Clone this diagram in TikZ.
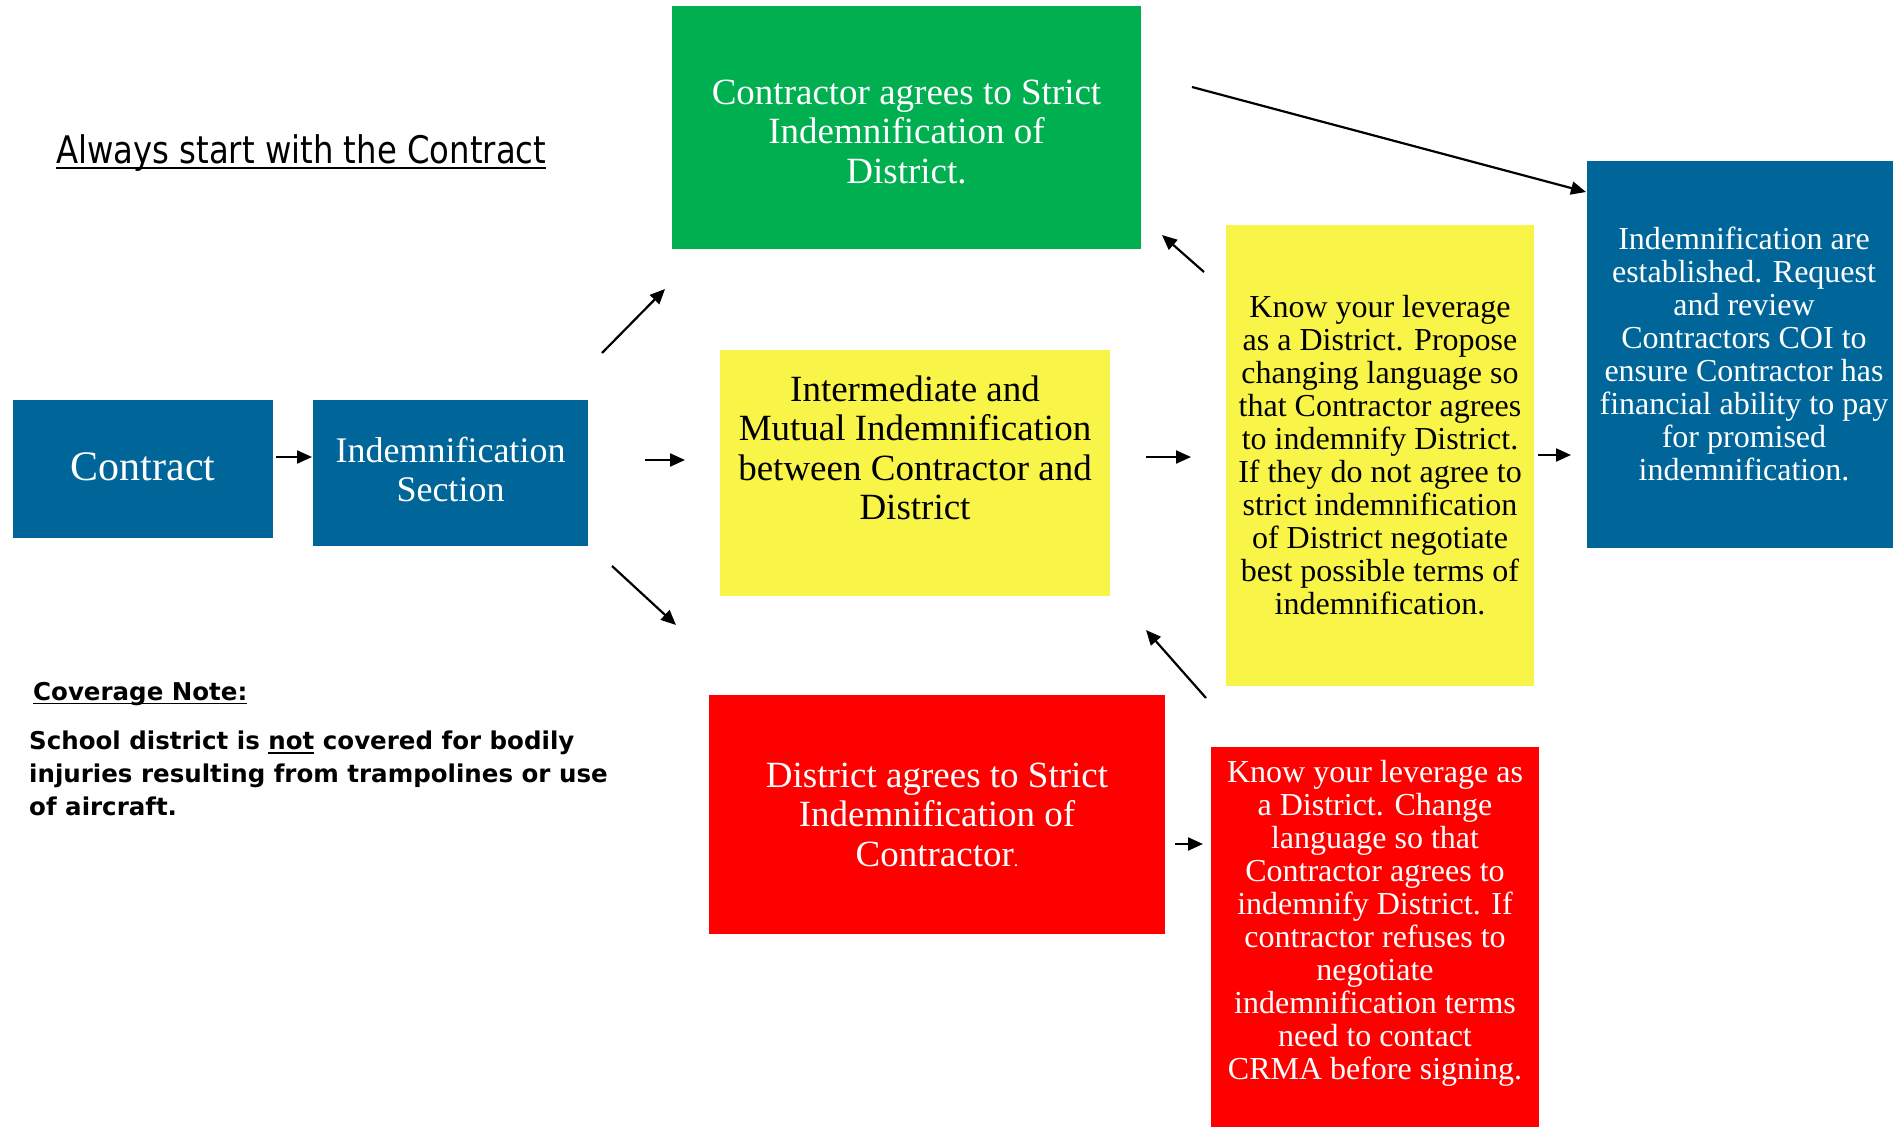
\documentclass[tikz,border=0pt]{standalone}
\usepackage{fontspec}
\setmainfont{Liberation Serif}
\newfontfamily\titlefont[FakeStretch=0.85]{DejaVu Sans}
\newfontfamily\notefont{DejaVu Sans}
\definecolor{dblue}{RGB}{0,102,153}
\definecolor{dgreen}{RGB}{0,176,80}
\definecolor{dyellow}{RGB}{249,245,72}
\definecolor{dred}{RGB}{255,0,0}
\usetikzlibrary{arrows.meta,positioning}
\newcommand{\undl}[1]{\setbox0\hbox{#1}\rlap{\rule[-0.17em]{\wd0}{0.065em}}\box0\relax}

\begin{document}
\begin{tikzpicture}[x=1pt,y=-1pt,
  box/.style={anchor=north west,inner sep=0pt,outer sep=0pt},
  bluebox/.style={box,fill=dblue},
  greenbox/.style={box,fill=dgreen},
  yellowbox/.style={box,fill=dyellow},
  redbox/.style={box,fill=dred},
  boxtext/.style={inner sep=0pt,align=center},
  arr/.style={-{Triangle[length=15pt,width=13pt]},line width=2.2pt}]
  \useasboundingbox (0,0) rectangle (1893,1127);
  \fill[white] (0,0) rectangle (1893,1127);

  % heading and note
  \node[anchor=base west,inner sep=0pt,font=\titlefont\fontsize{38}{40}\selectfont] (title) at (56,163)
    {\undl{Always start with the Contract}};
  \node[anchor=base west,inner sep=0pt,font=\notefont\bfseries\fontsize{24.5}{33}\selectfont] (covhead) at (33,700)
    {\undl{Coverage Note:}};
  \node[anchor=north west,inner sep=0pt,align=left,font=\notefont\bfseries\fontsize{24.5}{33}\selectfont] (covtext) at (29,731)
    {School district is \undl{not} covered for bodily\\injuries resulting from trampolines or use\\of aircraft.};

  % left column
  \node[bluebox,minimum width=260pt,minimum height=138pt] (contract) at (13,400) {};
  \node[boxtext,text=white,font=\fontsize{42}{44}\selectfont] (contracttext) at ([yshift=2.5pt]contract.center) {Contract};
  \node[bluebox,minimum width=275pt,minimum height=146pt] (indem) at (313,400) {};
  \node[boxtext,text=white,font=\fontsize{36}{38.5}\selectfont] (indemtext) at ([yshift=3.6pt]indem.center)
    {Indemnification\\Section};

  % three outcomes
  \node[greenbox,minimum width=469pt,minimum height=243pt] (strict) at (672,6) {};
  \node[boxtext,text=white,font=\fontsize{37}{39.5}\selectfont] (stricttext) at ([yshift=-4.5pt]strict.center)
    {Contractor agrees to Strict\\Indemnification of\\District.};
  \node[yellowbox,minimum width=390pt,minimum height=246pt] (mutual) at (720,350) {};
  \node[boxtext,anchor=north,below=25.5pt of mutual.north,font=\fontsize{37}{39.5}\selectfont] (mutualtext)
    {Intermediate and\\Mutual Indemnification\\between Contractor and\\District};
  \node[redbox,minimum width=456pt,minimum height=239pt] (distr) at (709,695) {};
  \node[boxtext,text=white,font=\fontsize{37}{39.5}\selectfont] (distrtext) at (distr.center)
    {District agrees to Strict\\Indemnification of\\Contractor{\fontsize{18}{18}\selectfont.}};

  % next steps
  \node[yellowbox,minimum width=308pt,minimum height=461pt] (lever) at (1226,225) {};
  \node[boxtext,font=\fontsize{32}{33}\selectfont] (levertext) at (lever.center)
    {Know your leverage\\as a District. Propose\\changing language so\\that Contractor agrees\\to indemnify District.\\If they do not agree to\\strict indemnification\\of District negotiate\\best possible terms of\\indemnification.};
  \node[redbox,minimum width=328pt,minimum height=400pt] (crma) at (1211,747) {};
  \node[boxtext,anchor=north,below=13.5pt of crma.north,text=white,font=\fontsize{32}{33}\selectfont] (crmatext)
    {Know your leverage as\\a District. Change\\language so that\\Contractor agrees to\\indemnify District. If\\contractor refuses to\\negotiate\\indemnification terms\\need to contact\\CRMA before signing.};
  \node[bluebox,minimum width=314pt,minimum height=387pt] (coi) at (1587,161) {};
  \node[boxtext,text=white,font=\fontsize{32}{33}\selectfont] (coitext) at ([yshift=1pt]coi.center)
    {Indemnification are\\established. Request\\and review\\Contractors COI to\\ensure Contractor has\\financial ability to pay\\for promised\\indemnification.};

  % arrows
  \draw[arr] ([shift={(3,-12)}]contract.east) -- ([shift={(-1,-16)}]indem.west);
  \draw[arr] ([shift={(14,-47)}]indem.north east) -- ([shift={(-7,40)}]strict.south west);
  \draw[arr] ([shift={(57,-13)}]indem.east) -- ([shift={(-35,-13)}]mutual.west);
  \draw[arr] ([shift={(24,20)}]indem.south east) -- ([shift={(-33,-70)}]distr.north west);
  \draw[arr] ([shift={(36,-16)}]mutual.east) -- ([shift={(-35,1.5)}]lever.west);
  \draw[arr] ([shift={(-22,47)}]lever.north west) -- ([shift={(21,-14)}]strict.south east);
  \draw[arr] ([shift={(-5,-49)}]crma.north west) -- ([shift={(36,34)}]mutual.south east);
  \draw[arr] ([shift={(51,-40.5)}]strict.east) -- ([shift={(-1,31)}]coi.north west);
  \draw[arr] ([shift={(4,-0.5)}]lever.east) -- ([shift={(-16,100.5)}]coi.west);
  \draw[arr] ([shift={(10,29.5)}]distr.east) -- ([shift={(-8,97)}]crma.north west);
\end{tikzpicture}
\end{document}
